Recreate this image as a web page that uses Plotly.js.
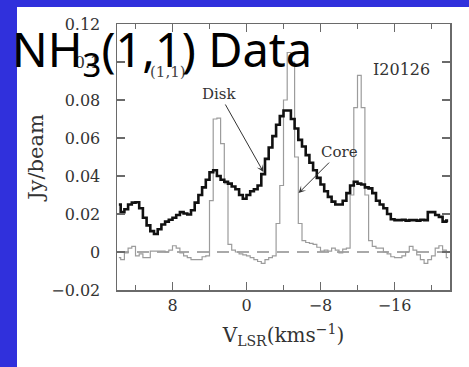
<!DOCTYPE html>
<html>
<head>
<meta charset="utf-8">
<script src="https://cdn.plot.ly/plotly-3.0.1.min.js"></script>
<style>html,body{margin:0;padding:0;background:#3030dc;}#chart{width:469px;height:367px;}</style>
</head>
<body>
<div id="chart"></div>
<script>
// Channel grid: first channel centre and spacing (km/s)
const firstVelocity = 13.8;
const channelWidth = -0.4;

// Disk spectrum (Jy/beam), one value per channel
const diskValues = [
  0.025,0.021,0.0225,0.025,0.026,0.0262,0.023,0.018,0.014,0.011,
  0.0095,0.012,0.0145,0.016,0.017,0.018,0.0195,0.021,0.0203,0.0197,
  0.022,0.026,0.030,0.034,0.038,0.042,0.043,0.040,0.038,0.037,
  0.036,0.0345,0.033,0.030,0.028,0.030,0.032,0.033,0.035,0.041,
  0.049,0.055,0.061,0.067,0.0715,0.0745,0.0745,0.070,0.065,0.059,
  0.0555,0.051,0.047,0.043,0.039,0.0355,0.032,0.029,0.0265,0.025,
  0.025,0.027,0.031,0.035,0.037,0.036,0.0355,0.034,0.0335,0.031,
  0.027,0.025,0.023,0.020,0.0172,0.0168,0.0168,0.017,0.0165,0.0168,
  0.0168,0.0165,0.017,0.0168,0.021,0.021,0.0195,0.0185,0.016,0.0165
];

// Core spectrum (Jy/beam), one value per channel
const coreValues = [
  -0.003,-0.004,-0.0005,0.002,0.003,-0.002,-0.001,-0.003,-0.003,0.0005,
  0.0005,0.0005,0.0005,0.0,0.001,0.0033,0.002,-0.0005,-0.002,-0.003,
  -0.004,-0.004,-0.004,-0.0025,-0.002,0.027,0.07,0.0705,0.057,0.036,
  0.004,0.001,0.0,-0.001,-0.0015,-0.002,-0.003,-0.004,-0.005,-0.006,
  -0.004,-0.003,-0.002,0.015,0.035,0.08,0.105,0.1,0.05,0.015,
  0.006,0.005,0.0045,0.004,0.0025,0.0005,0.001,0.0005,0.002,0.001,
  -0.0005,0.0015,0.002,0.03,0.076,0.093,0.076,0.03,0.006,0.003,
  0.002,0.002,0.0,-0.001,-0.0025,-0.003,-0.003,-0.002,0.0,0.003,
  0.001,-0.0015,-0.004,-0.006,-0.004,-0.002,0.002,0.0033,0.001,-0.003
];

const xTickVals = [8, 0, -8, -16];
const seriesNames = ['Disk', 'Core'];

const serif = 'DejaVu Serif, Liberation Serif, serif';
const axisCol = '#6a6a6a';

const traces = [
  {type:'scatter', mode:'lines', name:seriesNames[1], x0:firstVelocity, dx:channelWidth, y:coreValues,
   line:{shape:'hvh', color:'#9c9c9c', width:1.2}},
  {type:'scatter', mode:'lines', name:seriesNames[0], x0:firstVelocity, dx:channelWidth, y:diskValues,
   line:{shape:'hvh', color:'#111111', width:2.6}}
];

const layout = {
  width:469, height:367,
  margin:{l:117, r:19, t:24, b:77},
  paper_bgcolor:'#3030dc',
  plot_bgcolor:'#ffffff',
  showlegend:false,
  xaxis:{
    range:[14,-22], tickvals:xTickVals, ticks:'inside', ticklen:8, tickwidth:1.2, tickcolor:axisCol,
    minor:{dtick:4, tick0:0, ticks:'inside', ticklen:5, tickwidth:1.2, tickcolor:axisCol},
    showline:true, linecolor:axisCol, linewidth:1.5, mirror:'ticks',
    showgrid:false, zeroline:false,
    tickfont:{family:serif, size:16, color:'#333'},
    title:{text:'V<sub>LSR</sub>(kms<sup>\u22121</sup>)', font:{family:serif, size:20, color:'#333'}, standoff:14}
  },
  yaxis:{
    range:[-0.02,0.12], dtick:0.02, tick0:0, ticks:'inside', ticklen:8, tickwidth:1.2, tickcolor:axisCol,
    showline:true, linecolor:axisCol, linewidth:1.5, mirror:'ticks',
    showgrid:false, zeroline:false, ticklabelstandoff:12,
    tickfont:{family:serif, size:16, color:'#333'},
    title:{text:'Jy/beam', font:{family:serif, size:21, color:'#333'}, standoff:2}
  },
  shapes:[
    {type:'rect', xref:'paper', yref:'paper', x0:-0.3003, x1:1.2, y0:-0.4, y1:1.0639,
     fillcolor:'#ffffff', line:{width:0}, layer:'below'},
    {type:'line', xref:'paper', yref:'y', x0:0, x1:1, y0:0, y1:0,
     line:{color:'#555', width:1.2, dash:'12px,8px'}, layer:'below'}
  ],
  annotations:[
    {xref:'x', yref:'y', x:8.47, y:0.0947, text:'(1,1)', showarrow:false,
     font:{family:serif, size:15, color:'#444'}},
    {xref:'x', yref:'y', x:-16.8, y:0.0958, text:'I20126', showarrow:false,
     font:{family:serif, size:16, color:'#333'}},
    {xref:'x', yref:'y', x:-1.83, y:0.0421, text:'Disk', showarrow:true, ax:-44, ay:-78,
     arrowhead:3, arrowsize:1.2, arrowwidth:1, arrowcolor:'#333',
     font:{family:serif, size:15, color:'#333'}},
    {xref:'x', yref:'y', x:-5.63, y:0.031, text:'Core', showarrow:true, ax:41, ay:-41,
     arrowhead:3, arrowsize:1.2, arrowwidth:1, arrowcolor:'#333',
     font:{family:serif, size:15, color:'#333'}},
    {xref:'paper', yref:'paper', x:-0.3213, y:0.895, xanchor:'left', yanchor:'middle', showarrow:false,
     text:'NH<sub>3</sub>(1,1) Data', font:{family:'Noto Sans, DejaVu Sans, sans-serif', size:47, color:'#000'}}
  ]
};

Plotly.newPlot('chart', traces, layout, {displayModeBar:false, staticPlot:true});
</script>
</body>
</html>
